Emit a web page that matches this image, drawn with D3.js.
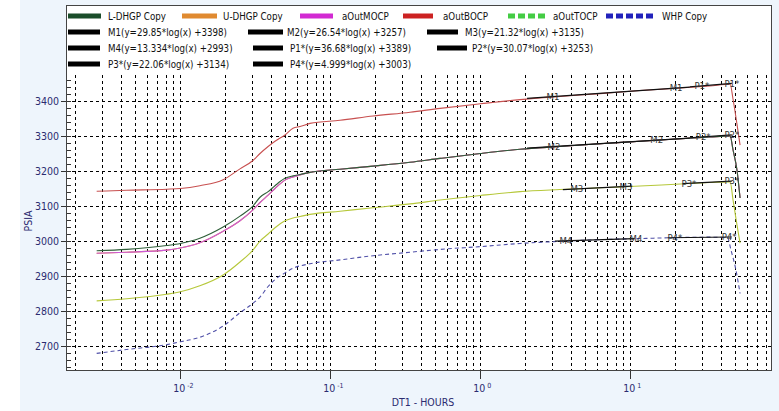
<!DOCTYPE html>
<html><head><meta charset="utf-8">
<script src="https://cdn.jsdelivr.net/npm/d3@7"></script>
<style>
html,body{margin:0;padding:0;background:#fff;}
svg{display:block;}
text{font-family:"DejaVu Sans Condensed","DejaVu Sans",sans-serif;}
</style></head>
<body>
<svg id="c" width="779" height="411"></svg>
<script>
// ---- data ----
const times = [0.00277,0.00439,0.00812,0.0100,0.0135,0.0193,0.0250,0.0305,0.0340,0.0385,0.0428,0.0499,0.0564,0.0628,0.0732,0.116,0.193,0.340,0.539,1.0,1.84,3.39,6.28,11.6,21.5,33.9,46.3,48.4,51.4,53.9];
const bocp   = [3142,3145,3148,3150,3158,3175,3206,3230,3250,3270,3285,3303,3322,3327,3336,3345,3357,3368,3379,3392,3404,3413,3421,3430,3437,3443,3448,3405,3334,3274];
const ldhgp  = [2972,2976,2987,2993,3008,3040,3071,3100,3125,3141,3158,3179,3186,3190,3196,3205,3214,3225,3236,3250,3262,3270,3278,3285,3292,3297,3300,3260,3203,3123];
const udhgp  = [2965,2968,2974,2980,2995,3028,3058,3089,3110,3131,3150,3174,3183,3189,3196,3205,3214,3225,3236,3250,3262,3270,3278,3285,3292,3297,3300,3260,3203,3123];
const mocp   = [2965,2968,2974,2980,2995,3028,3058,3089,3110,3131,3150,3174,3183,3189,3196,3205,3214,3225,3236,3250,3262,3270,3278,3285,3292,3297,3300,3260,3203,3123];
const tocp   = [2829,2835,2848,2855,2872,2903,2940,2974,3000,3020,3038,3058,3066,3070,3076,3085,3095,3106,3117,3130,3141,3147,3152,3157,3163,3167,3169,3117,3046,2994];
const whpTimes = [0.00277,0.00439,0.00812,0.0100,0.0135,0.0193,0.0250,0.0305,0.0340,0.0385,0.0428,0.0499,0.0564,0.0732,0.116,0.193,0.340,0.539,1.0,1.84,3.39,6.28,11.6,21.5,33.9,44.5,46.9,50.6,53.9];
const whp    = [2679,2690,2704,2712,2725,2757,2795,2822,2840,2870,2890,2909,2922,2935,2946,2958,2968,2976,2984,2993,2999,3004,3007,3010,3011,3009,2974,2917,2850];

// straight-line fits: y = slope*log10(t) + intercept
const fitNames      = ["M1","M2","M3","M4","P1*","P2*","P3*","P4*"];
const fitSlopes     = [29.85,26.54,21.32,13.334,36.68,30.07,22.06,4.999];
const fitIntercepts = [3398,3257,3135,2993,3389,3253,3134,3003];
const fitSlopeText  = ["29.85","26.54","21.32","13.334","36.68","30.07","22.06","4.999"];
const fitStart      = [2.05,2.05,3.55,3.14,24.9,24.9,22.3,17.8];
const fitEnd        = [24.9,24.9,10.3,10.7,47.5,47.5,47.5,47.5];
const fitLabelT1    = [3.05,3.1,4.4,3.72,30,30.6,24.6,19.8];
const fitLabelT2    = [20.2,15.0,9.35,10.9,47.5,47.5,47.5,45.6];

const yTicks = [2700,2800,2900,3000,3100,3200,3300,3400];
const xTickExps = [-2,-1,0,1];

const seriesNames = ["L-DHGP Copy","U-DHGP Copy","aOutMOCP","aOutBOCP","aOutTOCP","WHP Copy"];

// ---- drawing ----
const svg = d3.select("#c");
const L=66, R=772, T=5, B=371, GT=75;
const x = d3.scaleLog().domain([0.00173, 88]).range([L, R]);
const y = d3.scaleLinear().domain([2628.6, 3474.3]).range([B, GT]);
const navy = "#2b2b70";

svg.append("rect").attr("x",0).attr("y",0).attr("width",779).attr("height",411).attr("fill","#eef5fc");
svg.append("rect").attr("x",0).attr("y",0).attr("width",20).attr("height",411).attr("fill","#ffffff");
svg.append("rect").attr("x",L).attr("y",T).attr("width",R-L).attr("height",B-T).attr("fill","#fff");

// grid
const g = svg.append("g");
const vgrid = [];
for (let e=-3; e<=1; e++) for (let m=1; m<=9; m++) {
  const v = m*Math.pow(10,e);
  if (v>0.00175 && v<88) vgrid.push(v);
}
g.selectAll("line.v").data(vgrid).join("line")
  .attr("x1",d=>Math.round(x(d))+0.5).attr("x2",d=>Math.round(x(d))+0.5).attr("y1",GT).attr("y2",B)
  .attr("stroke","#000").attr("stroke-width",1).attr("stroke-dasharray","3,3");
g.selectAll("line.h").data(yTicks).join("line")
  .attr("x1",L).attr("x2",R).attr("y1",d=>Math.round(y(d))+0.5).attr("y2",d=>Math.round(y(d))+0.5)
  .attr("stroke","#000").attr("stroke-width",1).attr("stroke-dasharray","3,3");

// y axis minor ticks (inside) and major ticks (outside)
const minor = d3.range(2640, 3470, 20);
g.selectAll("line.mn").data(minor).join("line")
  .attr("x1",L).attr("x2",L+5).attr("y1",d=>Math.round(y(d))+0.5).attr("y2",d=>Math.round(y(d))+0.5)
  .attr("stroke","#333").attr("stroke-width",1);
g.selectAll("line.mj").data(yTicks).join("line")
  .attr("x1",L-5).attr("x2",L).attr("y1",d=>Math.round(y(d))+0.5).attr("y2",d=>Math.round(y(d))+0.5)
  .attr("stroke","#333").attr("stroke-width",1);
g.selectAll("text.yl").data(yTicks).join("text")
  .attr("x",L-7).attr("y",d=>y(d)).attr("dy","0.35em").attr("text-anchor","end")
  .attr("font-size","10.5px").attr("fill",navy).text(d=>d);

// x major ticks + labels
g.selectAll("line.xt").data(xTickExps).join("line")
  .attr("x1",d=>Math.round(x(Math.pow(10,d)))+0.5).attr("x2",d=>Math.round(x(Math.pow(10,d)))+0.5)
  .attr("y1",B).attr("y2",B+8).attr("stroke","#333");
const xl = g.selectAll("text.xl").data(xTickExps).join("text")
  .attr("x",d=>x(Math.pow(10,d))-7).attr("y",392).attr("font-size","10.5px").attr("fill",navy);
xl.append("tspan").text("10");
xl.append("tspan").attr("dy","-4").attr("font-size","7px").text(d=>" "+d);

svg.append("text").attr("x",423).attr("y",406).attr("text-anchor","middle").attr("font-size","10.5px").attr("fill",navy).text("DT1 - HOURS");
svg.append("text").attr("transform","translate(32,221) rotate(-90)").attr("text-anchor","middle").attr("font-size","10.5px").attr("fill",navy).text("PSIA");

// curves
const line = d3.line().x(d=>x(d[0])).y(d=>y(d[1]));
const curves = [
  {v:udhgp, t:times, c:"#e08a30", dash:null},
  {v:bocp,  t:times, c:"#c85050", dash:null},
  {v:mocp,  t:times, c:"#cc5ad8", dash:null},
  {v:ldhgp, t:times, c:"#2e5e38", dash:null},
  {v:tocp,  t:times, c:"#b6c83a", dash:null},
  {v:whp,   t:whpTimes, c:"#5050a8", dash:"4,3"}
];
const cg = svg.append("g");
curves.forEach(s=>{
  cg.append("path").attr("d", line.curve(d3.curveMonotoneX)(s.t.map((t,i)=>[t,s.v[i]])))
    .attr("fill","none").attr("stroke",s.c).attr("stroke-width",1.1)
    .attr("stroke-dasharray",s.dash);
});

// fit lines + labels
const fg = svg.append("g");
fitNames.forEach((n,i)=>{
  const f = t=>fitSlopes[i]*Math.log10(t)+fitIntercepts[i];
  fg.append("line").attr("x1",x(fitStart[i])).attr("x2",x(fitEnd[i]))
    .attr("y1",y(f(fitStart[i]))).attr("y2",y(f(fitEnd[i])))
    .attr("stroke","#111").attr("stroke-width",1.2);
  [fitLabelT1[i],fitLabelT2[i]].forEach(t=>{
    fg.append("text").attr("x",x(t)).attr("y",y(f(t))).attr("dy","0.35em")
      .attr("text-anchor","middle").attr("font-size","9.5px").attr("fill","#333").text(n);
  });
});

// frame
svg.append("rect").attr("x",L+0.5).attr("y",T+0.5).attr("width",R-L-1).attr("height",B-T-1)
  .attr("fill","none").attr("stroke","#444").attr("stroke-width",1);

// legend
const lg = svg.append("g");
const legendRow1 = [
  {name:seriesNames[0], c:"#1a4d2a", dash:null, sx:68, sw:33, tx:108},
  {name:seriesNames[1], c:"#e08a30", dash:null, sx:182, sw:35, tx:223},
  {name:seriesNames[2], c:"#d22ad2", dash:null, sx:300, sw:33, tx:342},
  {name:seriesNames[3], c:"#cc2222", dash:null, sx:403, sw:30, tx:443},
  {name:seriesNames[4], c:"#44cc44", dash:"7,3", sx:508, sw:40, tx:553},
  {name:seriesNames[5], c:"#2222bb", dash:"7,3", sx:606, sw:47, tx:662}
];
const addText = (tx,ty,txt)=>lg.append("text")
  .attr("transform",`translate(${tx},${ty}) scale(0.88,1)`).attr("dy","0.35em")
  .attr("font-size","11px").attr("fill","#111").text(txt);
legendRow1.forEach(d=>{
  lg.append("line").attr("x1",d.sx).attr("x2",d.sx+d.sw).attr("y1",16).attr("y2",16)
    .attr("stroke",d.c).attr("stroke-width",5).attr("stroke-dasharray",d.dash);
  addText(d.tx,16,d.name);
});
const fitLegendPos = [
  [68,100,108,32],[248,283,287,32],[427,458,465,32],
  [68,100,108,48],[253,283,290,48],[437,467,472,48],
  [68,100,108,64],[253,283,290,64]
];
fitNames.forEach((n,i)=>{
  const p = fitLegendPos[i];
  lg.append("line").attr("x1",p[0]).attr("x2",p[1]).attr("y1",p[3]).attr("y2",p[3])
    .attr("stroke","#000").attr("stroke-width",5);
  addText(p[2],p[3],`${n}(y=${fitSlopeText[i]}*log(x) +${fitIntercepts[i]})`);
});
</script>
</body></html>
